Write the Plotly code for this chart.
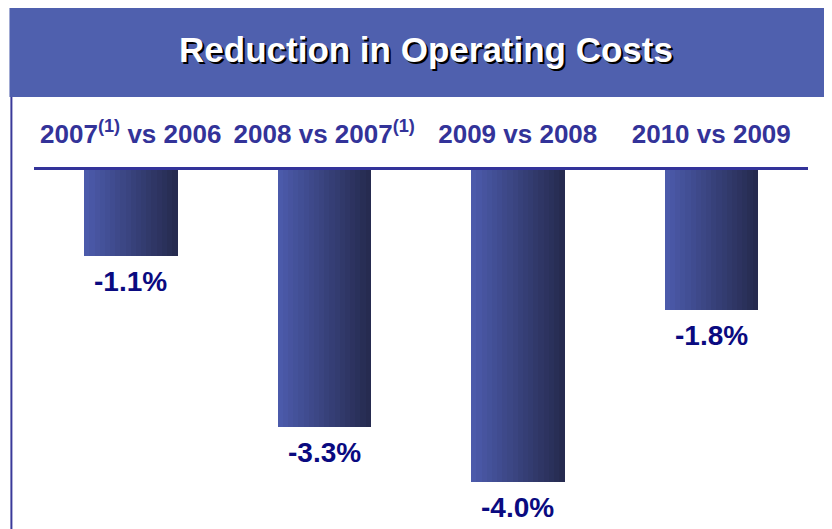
import plotly.graph_objects as go

categories = ["2007<sup>(1)</sup> vs 2006", "2008 vs 2007<sup>(1)</sup>", "2009 vs 2008", "2010 vs 2009"]
values = [-1.1, -3.3, -4.0, -1.8]
value_labels = ["-1.1%", "-3.3%", "-4.0%", "-1.8%"]

FONT = "Arial, Liberation Sans, sans-serif"
BANNER = "#4F60AE"
LABEL_BLUE = "#333399"
VALUE_NAVY = "#0A0A80"
LEFT_COLOR = (75, 90, 170)
RIGHT_COLOR = (38, 43, 80)

x = list(range(len(categories)))
bar_w = 0.48
n_slices = 18
slice_w = bar_w / n_slices

fig = go.Figure()
# horizontal gradient faked with thin overlaid slices of the same bars
for i in range(n_slices):
    t = i / (n_slices - 1)
    c = tuple(round(a + (b - a) * t) for a, b in zip(LEFT_COLOR, RIGHT_COLOR))
    fig.add_trace(go.Bar(
        x=x, y=values,
        width=slice_w * 1.08,
        offset=-bar_w / 2 + i * slice_w,
        marker=dict(color="rgb(%d,%d,%d)" % c, line=dict(width=0)),
        showlegend=False, hoverinfo="skip",
    ))

for xi, v, lab in zip(x, values, value_labels):
    fig.add_annotation(x=xi, y=v, text="<b>%s</b>" % lab, showarrow=False,
                       yanchor="top", yshift=-8,
                       font=dict(family=FONT, size=28, color=VALUE_NAVY))

# title banner and left rule
fig.add_shape(type="rect", xref="paper", yref="paper",
              x0=-0.0317, x1=1.05, y0=1.2033, y1=1.4568,
              fillcolor=BANNER, line=dict(width=0), layer="below")
fig.add_shape(type="line", xref="paper", yref="paper",
              x0=-0.0292, x1=-0.0292, y0=-0.05, y1=1.2033,
              line=dict(color="#3A3A9A", width=2))

# page body has an 8px margin, so the figure is 8px smaller and shifted
fig.update_layout(
    width=824, height=521,
    margin=dict(l=25.6, r=23.5, t=162, b=0),
    paper_bgcolor="white", plot_bgcolor="white",
    barmode="overlay", bargap=0,
    title=dict(text="<b>Reduction in Operating Costs</b>",
               xref="container", yref="container", x=0.5073, y=0.9194,
               xanchor="center", yanchor="middle",
               font=dict(family=FONT, size=35, color="white",
                         shadow="2px 2px 0px #000000")),
    xaxis=dict(side="top", tickvals=x, ticktext=["<b>%s</b>" % c for c in categories],
               range=[-0.5, 3.5], showgrid=False, zeroline=False,
               showline=True, linecolor=LABEL_BLUE, linewidth=3,
               ticks="", ticklabelstandoff=14,
               tickfont=dict(family=FONT, size=26, color=LABEL_BLUE)),
    yaxis=dict(range=[-4.603, 0], visible=False),
)

fig.write_html("out.html")
